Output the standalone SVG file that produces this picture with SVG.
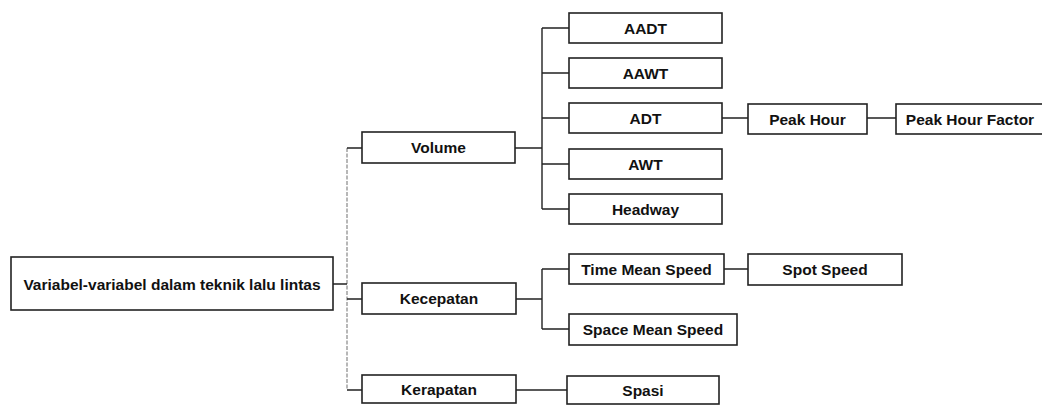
<svg xmlns="http://www.w3.org/2000/svg" width="1042" height="405" viewBox="0 0 1042 405">
<style>
.box{fill:#fff;stroke:#222;stroke-width:1.6}
.t{font-family:"Liberation Sans",Arial,sans-serif;font-size:15.5px;font-weight:bold;fill:#111;text-anchor:middle}
.c{fill:none;stroke:#222;stroke-width:1.4}
.trunk{fill:none;stroke:#888;stroke-width:1.2;stroke-dasharray:4 1.5}
</style>
<rect x="0" y="0" width="1042" height="405" fill="#fff"/>
<g id="connectors">
<path class="trunk" d="M347 148V390"/>
<path class="c" d="M333 284H347M347 148H362M347 299H362M347 390H362"/>
<path class="c" d="M515 148H542M542 28V209M542 28H569M542 73H569M542 118H569M542 164H569M542 209H569"/>
<path class="c" d="M722 118H748M867 118H896"/>
<path class="c" d="M516 299H542M542 269V329M542 269H569M542 329H569M724 269H748"/>
<path class="c" d="M516 390H567"/>
</g>
<g id="root"><rect class="box" x="11" y="257" width="322" height="53"/><text class="t" x="172" y="289.5">Variabel-variabel dalam teknik lalu lintas</text></g>
<g id="volume"><rect class="box" x="362" y="132" width="153" height="31"/><text class="t" x="438.5" y="153">Volume</text></g>
<g id="kecepatan"><rect class="box" x="362" y="283" width="154" height="31"/><text class="t" x="439" y="304">Kecepatan</text></g>
<g id="kerapatan"><rect class="box" x="362" y="375" width="154" height="28"/><text class="t" x="439" y="395">Kerapatan</text></g>
<g id="aadt"><rect class="box" x="569" y="13" width="153" height="30"/><text class="t" x="645.5" y="33.5">AADT</text></g>
<g id="aawt"><rect class="box" x="569" y="58" width="153" height="30"/><text class="t" x="645.5" y="78.5">AAWT</text></g>
<g id="adt"><rect class="box" x="569" y="103" width="153" height="30"/><text class="t" x="645.5" y="123.5">ADT</text></g>
<g id="awt"><rect class="box" x="569" y="149" width="153" height="30"/><text class="t" x="645.5" y="169.5">AWT</text></g>
<g id="headway"><rect class="box" x="569" y="194" width="153" height="30"/><text class="t" x="645.5" y="214.5">Headway</text></g>
<g id="peak-hour"><rect class="box" x="748" y="104" width="119" height="30"/><text class="t" x="807.5" y="124.5">Peak Hour</text></g>
<g id="peak-hour-factor"><rect class="box" x="896" y="104" width="150" height="30"/><text class="t" x="970" y="124.5">Peak Hour Factor</text></g>
<g id="time-mean-speed"><rect class="box" x="569" y="254" width="155" height="30"/><text class="t" x="646.5" y="274.5">Time Mean Speed</text></g>
<g id="spot-speed"><rect class="box" x="748" y="254" width="154" height="31"/><text class="t" x="825" y="275">Spot Speed</text></g>
<g id="space-mean-speed"><rect class="box" x="569" y="314" width="168" height="31"/><text class="t" x="653" y="335">Space Mean Speed</text></g>
<g id="spasi"><rect class="box" x="567" y="376" width="152" height="28"/><text class="t" x="643" y="395.5">Spasi</text></g>
</svg>
